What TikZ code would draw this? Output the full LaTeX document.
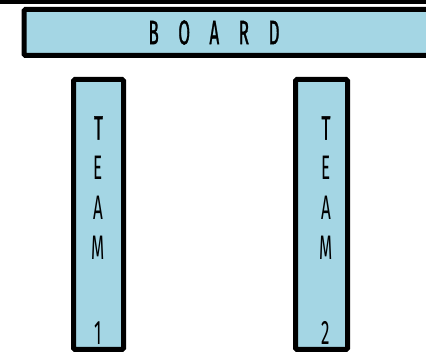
\documentclass[tikz,border=0pt]{standalone}
\usepackage{fontspec}
\newfontfamily\boardfont{Fira Sans}
\definecolor{boardblue}{RGB}{164,214,228}

\begin{document}
\begin{tikzpicture}[x=1pt,y=1pt,
  panel/.style={draw=black, line width=5pt, fill=boardblue, rounded corners=1.5pt, inner sep=0pt},
  lettering/.style={font=\boardfont\fontseries{m}\fontsize{34}{40}\selectfont, xscale=0.5, align=center, inner sep=0pt}]
  \useasboundingbox (0,0) rectangle (426,353);
  % strip along the top edge
  \fill (0,349) rectangle (426,353);
  \node[panel, minimum width=408pt, minimum height=46pt] (board) at (228,320.5) {};
  \node[lettering] (boardtext) at (214,320.5) {\addfontfeature{LetterSpace=115,FakeBold=1.5}BOARD};
  \node[panel, minimum width=50pt, minimum height=270pt] (teamA) at (98.5,138.5) {};
  \node[panel, minimum width=52pt, minimum height=270pt] (teamB) at (321.5,138.5) {};
  \node[lettering] (teamAtext) at (98.5,122.5) {\addfontfeature{FakeBold=1.5}T\\E\\A\\M\\[45pt]1};
  \node[lettering] (teamBtext) at (326,122.5) {\addfontfeature{FakeBold=1.5}T\\E\\A\\M\\[45pt]2};
\end{tikzpicture}
\end{document}
